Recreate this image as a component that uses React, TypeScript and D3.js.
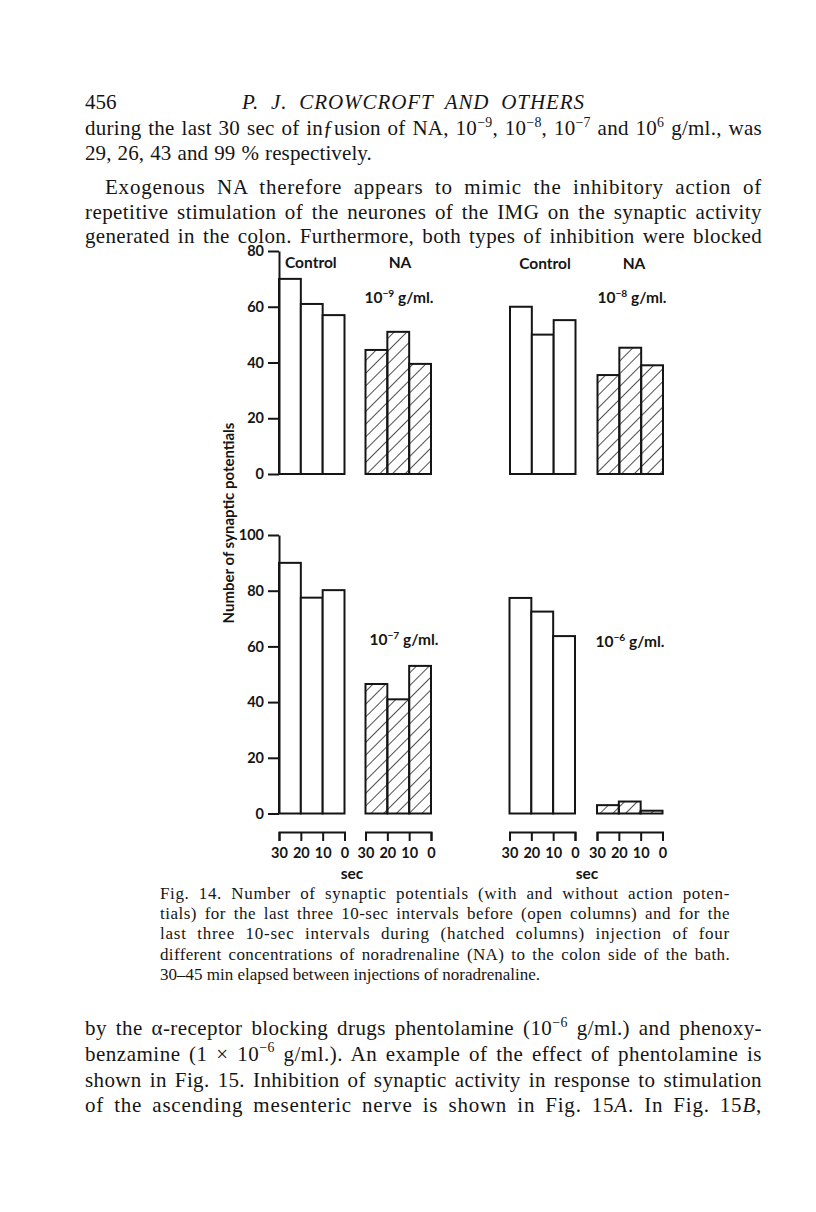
import React, { useEffect, useRef } from "react";
import * as d3 from "d3";

// last three 10-sec intervals (bar order, left to right)
const intervals = ["30", "20", "10"];
const timeTicks = [30, 20, 10, 0];
const topTicks = [0, 20, 40, 60, 80];
const bottomTicks = [0, 20, 40, 60, 80, 100];

// number of synaptic potentials
const control1 = [70, 61, 57];
const na9 = [44.5, 51, 39.5];
const control2 = [60, 50, 55.2];
const na8 = [35.5, 45.3, 39];
const control3 = [90, 77.5, 80.2];
const na7 = [46.5, 41, 53];
const control4 = [77.4, 72.5, 63.7];
const na6 = [3, 4.3, 1];

const concLabels = ["10^{−9} g/ml.", "10^{−8} g/ml.", "10^{−7} g/ml.", "10^{−6} g/ml."];

const headerLines = ["456", "P. J. CROWCROFT AND OTHERS"];
const topText = [
  "during the last 30 sec of in\u0192usion of NA, 10^{−9}, 10^{−8}, 10^{−7} and 10^{6} g/ml., was",
  "29, 26, 43 and 99 % respectively.",
  "Exogenous NA therefore appears to mimic the inhibitory action of",
  "repetitive stimulation of the neurones of the IMG on the synaptic activity",
  "generated in the colon. Furthermore, both types of inhibition were blocked",
];
const captionText = [
  "Fig. 14. Number of synaptic potentials (with and without action poten-",
  "tials) for the last three 10-sec intervals before (open columns) and for the",
  "last three 10-sec intervals during (hatched columns) injection of four",
  "different concentrations of noradrenaline (NA) to the colon side of the bath.",
  "30–45 min elapsed between injections of noradrenaline.",
];
const bottomText = [
  "by the α-receptor blocking drugs phentolamine (10^{−6} g/ml.) and phenoxy-",
  "benzamine (1 × 10^{−6} g/ml.). An example of the effect of phentolamine is",
  "shown in Fig. 15. Inhibition of synaptic activity in response to stimulation",
  "of the ascending mesenteric nerve is shown in Fig. 15_{A}. In Fig. 15_{B},",
];

const INK = "#151515";
const serif = "'Liberation Serif', 'Times New Roman', serif";
const sans = "Lato, 'Open Sans', sans-serif";
const BODY = 21;
const CAP = 17;

// turns "10^{−9}" / "_{A}" markup into tspans; width -> justified line
function RichText({ s, size, x, y, width, anchor, family, weight, italic }: any) {
  const parts = s.split(/(\^\{[^}]*\}|_\{[^}]*\})/).filter((p: string) => p !== "");
  const raise = size * 0.4;
  const kids: any[] = [];
  let up = false;
  parts.forEach((p: string, i: number) => {
    if (p.startsWith("^{")) {
      kids.push(<tspan key={i} dy={-raise} fontSize={size * 0.66}>{p.slice(2, -1)}</tspan>);
      up = true;
    } else if (p.startsWith("_{")) {
      kids.push(<tspan key={i} dy={up ? raise : 0} fontStyle="italic">{p.slice(2, -1)}</tspan>);
      up = false;
    } else {
      kids.push(<tspan key={i} dy={up ? raise : 0}>{p}</tspan>);
      up = false;
    }
  });
  return (
    <text className={width ? "justify" : undefined} data-w={width}
      x={x} y={y} fontSize={size} fontFamily={family || serif} fill={INK}
      fontWeight={weight || "normal"} fontStyle={italic ? "italic" : "normal"}
      textAnchor={anchor || "start"}>
      {kids}
    </text>
  );
}

const yTop = d3.scaleLinear().domain([0, 80]).range([474, 251]);
const yBottom = d3.scaleLinear().domain([0, 100]).range([813.5, 535]);
const groupWidth = 65.5;

const groups = [
  { values: control1, hatched: false, x0: 279, y: yTop },
  { values: na9, hatched: true, x0: 365.5, y: yTop },
  { values: control2, hatched: false, x0: 510, y: yTop },
  { values: na8, hatched: true, x0: 597.5, y: yTop },
  { values: control3, hatched: false, x0: 279, y: yBottom },
  { values: na7, hatched: true, x0: 365.5, y: yBottom },
  { values: control4, hatched: false, x0: 509.5, y: yBottom },
  { values: na6, hatched: true, x0: 597, y: yBottom },
];

export default function App() {
  const svgEl = useRef<SVGSVGElement>(null);

  useEffect(() => {
    const svg = d3.select(svgEl.current);
    svg.select<SVGGElement>(".y-top")
      .call(d3.axisLeft(yTop).tickValues(topTicks).tickSize(11).tickPadding(4).tickSizeOuter(0));
    svg.select<SVGGElement>(".y-bottom")
      .call(d3.axisLeft(yBottom).tickValues(bottomTicks).tickSize(11).tickPadding(4).tickSizeOuter(0));
    svg.selectAll<SVGGElement, number>(".time-axis").each(function () {
      const x0 = +this.getAttribute("data-x0")!;
      const t = d3.scaleLinear().domain([30, 0]).range([x0, x0 + groupWidth]);
      d3.select(this).call(d3.axisBottom(t).tickValues(timeTicks).tickSize(9).tickPadding(7));
    });
    svg.selectAll(".axis")
      .attr("font-family", sans).attr("font-size", 14.5).attr("font-weight", "bold");
    svg.selectAll(".axis path, .axis line").attr("stroke", INK).attr("stroke-width", 2);
    svg.selectAll(".axis text").attr("fill", INK);

    // justify page lines: half of the slack to the letters, half to the word gaps
    svg.selectAll<SVGTextElement, unknown>("text.justify").each(function () {
      const target = +this.getAttribute("data-w")!;
      this.style.wordSpacing = "0px";
      this.style.letterSpacing = "0px";
      const natural = this.getComputedTextLength();
      const txt = this.textContent || "";
      const gaps = txt.split(" ").length - 1;
      const slack = target - natural;
      const ls = (slack * 0.5) / Math.max(1, txt.length - 1);
      this.style.letterSpacing = `${ls}px`;
      const afterLetters = this.getComputedTextLength();
      if (gaps > 0) this.style.wordSpacing = `${(target - afterLetters) / gaps}px`;
    });
  }, []);

  return (
    <div style={{ position: "absolute", left: 0, top: 0 }}>
      <svg width={816} height={1212} ref={svgEl} style={{ display: "block", background: "#fff" }}>
        <defs>
          <pattern id="hatch" patternUnits="userSpaceOnUse" width={9} height={9} patternTransform="rotate(45)">
            <line x1={0} y1={0} x2={0} y2={9} stroke={INK} strokeWidth={1.5} />
          </pattern>
        </defs>

        {/* page text */}
        <RichText s={headerLines[0]} size={BODY} x={85} y={109} />
        <RichText s={headerLines[1]} size={BODY} x={242} y={109} width={343} italic />
        {topText.map((s, i) => (
          <RichText key={i} s={s} size={BODY} x={i === 2 ? 105 : 85} y={[135, 160, 194, 219, 243][i]}
            width={[677, 287, 657, 677, 677][i]} />
        ))}
        {captionText.map((s, i) => (
          <RichText key={i} s={s} size={CAP} x={160} y={899 + i * 20.2} width={i === 4 ? undefined : 570} />
        ))}
        {bottomText.map((s, i) => (
          <RichText key={i} s={s} size={BODY} x={85} y={1035 + i * 25.8} width={677} />
        ))}

        {/* bars */}
        {groups.map((g, gi) => {
          const xb = d3.scaleBand().domain(intervals).range([g.x0, g.x0 + groupWidth]);
          return (
            <g key={gi}>
              {g.values.map((v, i) => (
                <rect key={i} x={xb(intervals[i])} y={g.y(v)} width={xb.bandwidth()}
                  height={g.y(0) - g.y(v)} fill={g.hatched ? "url(#hatch)" : "#fff"}
                  stroke={INK} strokeWidth={2} />
              ))}
            </g>
          );
        })}

        <g className="axis y-top" transform="translate(279,0)" />
        <g className="axis y-bottom" transform="translate(279,0)" />
        {[279, 365.5, 509.5, 597].map((x0) => (
          <g key={x0} className="axis time-axis" data-x0={x0} transform="translate(0,832)" />
        ))}

        {/* figure labels */}
        <g fontFamily={sans} fontSize={15.5} fontWeight="bold" fill={INK}>
          <text x={285} y={268}>Control</text>
          <text x={400} y={268} textAnchor="middle">NA</text>
          <text x={545} y={269} textAnchor="middle">Control</text>
          <text x={634} y={269} textAnchor="middle">NA</text>
          <text x={352} y={879} textAnchor="middle">sec</text>
          <text x={587} y={879} textAnchor="middle">sec</text>
          <text transform="translate(234,523) rotate(-90)" textAnchor="middle" fontSize={15}>Number of synaptic potentials</text>
        </g>
        <RichText s={concLabels[0]} size={15.5} x={399} y={303} anchor="middle" family={sans} weight="bold" />
        <RichText s={concLabels[1]} size={15.5} x={632} y={303} anchor="middle" family={sans} weight="bold" />
        <RichText s={concLabels[2]} size={15.5} x={404} y={645} anchor="middle" family={sans} weight="bold" />
        <RichText s={concLabels[3]} size={15.5} x={630} y={647} anchor="middle" family={sans} weight="bold" />
      </svg>
    </div>
  );
}
